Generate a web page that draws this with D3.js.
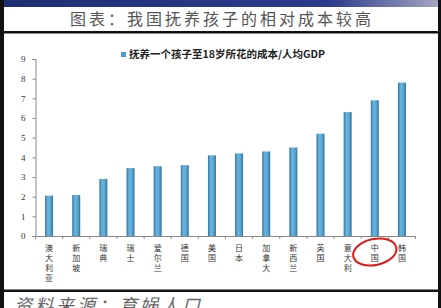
<!DOCTYPE html>
<html>
<head>
<meta charset="utf-8">
<script src="https://cdn.jsdelivr.net/npm/d3@7"></script>
<style>
  body { margin: 0; background: #fff; }
  svg { display: block; }
</style>
</head>
<body>
<svg width="441" height="308"></svg>
<script>
// **** data ****
var countries = ['澳大利亚', '新加坡', '瑞典', '瑞士', '爱尔兰', '德国', '美国',
                 '日本', '加拿大', '新西兰', '英国', '意大利', '中国', '韩国'];
var costRatio = [2.05, 2.08, 2.9, 3.45, 3.55, 3.6, 4.1,
                 4.2, 4.3, 4.5, 5.2, 6.3, 6.9, 7.8];
var yTicks = [0, 1, 2, 3, 4, 5, 6, 7, 8, 9];
var titleText = '图表：我国抚养孩子的相对成本较高';
var legendText = '抚养一个孩子至18岁所花的成本/人均GDP';
var sourceText = '资料来源：育娲人口';

var data = countries.map(function(c, i) { return {name: c, value: costRatio[i]}; });

var svg = d3.select('svg');
var defs = svg.append('defs');

// header bar gradient
var hg = defs.append('linearGradient').attr('id', 'hdr');
hg.append('stop').attr('offset', '0%').attr('stop-color', '#1c2f74');
hg.append('stop').attr('offset', '75%').attr('stop-color', '#2c3c8c');
hg.append('stop').attr('offset', '100%').attr('stop-color', '#a8a8c4');

// bar gradient (darker edges)
var bg = defs.append('linearGradient').attr('id', 'bar');
bg.append('stop').attr('offset', '0%').attr('stop-color', '#2f76a3');
bg.append('stop').attr('offset', '35%').attr('stop-color', '#6db5de');
bg.append('stop').attr('offset', '70%').attr('stop-color', '#58a5d2');
bg.append('stop').attr('offset', '100%').attr('stop-color', '#2c6f9b');

// **** frame ****
svg.append('rect').attr('x', 0).attr('y', 0).attr('width', 441).attr('height', 7)
    .attr('fill', 'url(#hdr)');
svg.append('rect').attr('x', 0).attr('y', 0).attr('width', 4).attr('height', 308)
    .attr('fill', '#111');
svg.append('rect').attr('x', 438).attr('y', 0).attr('width', 3).attr('height', 308)
    .attr('fill', '#111');

svg.append('text')
    .attr('x', 222).attr('y', 25)
    .attr('text-anchor', 'middle')
    .style('font-family', '"Noto Sans CJK SC", sans-serif')
    .style('font-size', '16px')
    .style('letter-spacing', '3px')
    .attr('fill', '#555')
    .text(titleText);

svg.append('rect').attr('x', 4).attr('y', 31).attr('width', 434).attr('height', 2.5)
    .attr('fill', '#111');

svg.append('rect').attr('x', 4).attr('y', 289.5).attr('width', 434).attr('height', 2.5)
    .attr('fill', '#111');

svg.append('text')
    .attr('x', 14).attr('y', 312)
    .style('font-family', '"Noto Sans CJK SC", sans-serif')
    .style('font-size', '18px')
    .style('font-style', 'italic')
    .style('letter-spacing', '3px')
    .attr('fill', '#666')
    .text(sourceText);

// **** scales & axes ****
var xScale = d3.scaleBand().domain(countries).range([35.5, 415.5]).padding(0);
var yScale = d3.scaleLinear().domain([0, 9]).range([236, 59]);

var yAxis = svg.append('g').attr('class', 'y axis')
    .attr('transform', 'translate(35.5,0)')
    .call(d3.axisLeft(yScale).tickValues(yTicks).tickSize(3).tickPadding(7));

var xAxis = svg.append('g').attr('class', 'x axis')
    .attr('transform', 'translate(0,236)')
    .call(d3.axisBottom(xScale).tickSize(0).tickFormat(''));

// tick marks at band boundaries
xAxis.selectAll('line.sep')
    .data(countries.concat(['end']))
    .enter().append('line')
    .attr('class', 'sep')
    .attr('x1', function(d, i) { return 35.5 + i * xScale.step(); })
    .attr('x2', function(d, i) { return 35.5 + i * xScale.step(); })
    .attr('y1', 0).attr('y2', 3)
    .attr('stroke', '#888');

svg.selectAll('.axis path').attr('stroke', '#888');
svg.selectAll('.axis .tick line').attr('stroke', '#888');
yAxis.selectAll('text')
    .style('font-family', '"Liberation Serif", serif')
    .style('font-size', '9px')
    .attr('fill', '#333');

// **** bars ****
var barW = 8;
svg.selectAll('rect.bar')
    .data(data)
    .enter().append('rect')
    .attr('class', 'bar')
    .attr('x', function(d) { return xScale(d.name) + xScale.bandwidth() / 2 - barW / 2; })
    .attr('y', function(d) { return yScale(d.value); })
    .attr('width', barW)
    .attr('height', function(d) { return yScale(0) - yScale(d.value); })
    .attr('fill', 'url(#bar)');

// vertical category labels
var labels = svg.selectAll('g.lab')
    .data(data)
    .enter().append('g')
    .attr('class', 'lab')
    .attr('transform', function(d) {
        return 'translate(' + (xScale(d.name) + xScale.bandwidth() / 2) + ',251)';
    });

labels.selectAll('text')
    .data(function(d) { return d.name.split(''); })
    .enter().append('text')
    .attr('y', function(d, i) { return i * 10; })
    .attr('text-anchor', 'middle')
    .style('font-family', '"Noto Sans CJK SC", sans-serif')
    .style('font-size', '8px')
    .attr('fill', '#333')
    .text(function(d) { return d; });

// **** legend ****
svg.append('rect').attr('x', 121).attr('y', 52).attr('width', 5).attr('height', 5)
    .attr('fill', '#4a9ccc');
svg.append('text')
    .attr('x', 129).attr('y', 58)
    .style('font-family', '"Noto Sans CJK SC", sans-serif')
    .style('font-size', '10.5px')
    .style('font-weight', 'bold')
    .attr('fill', '#222')
    .text(legendText);

// **** red highlight around China ****
var cn = xScale('中国') + xScale.bandwidth() / 2;
svg.append('ellipse')
    .attr('cx', cn).attr('cy', 252)
    .attr('rx', 22).attr('ry', 13)
    .attr('transform', 'rotate(-12,' + cn + ',252)')
    .attr('fill', 'none')
    .attr('stroke', '#e01818')
    .attr('stroke-width', 2);
</script>
</body>
</html>
